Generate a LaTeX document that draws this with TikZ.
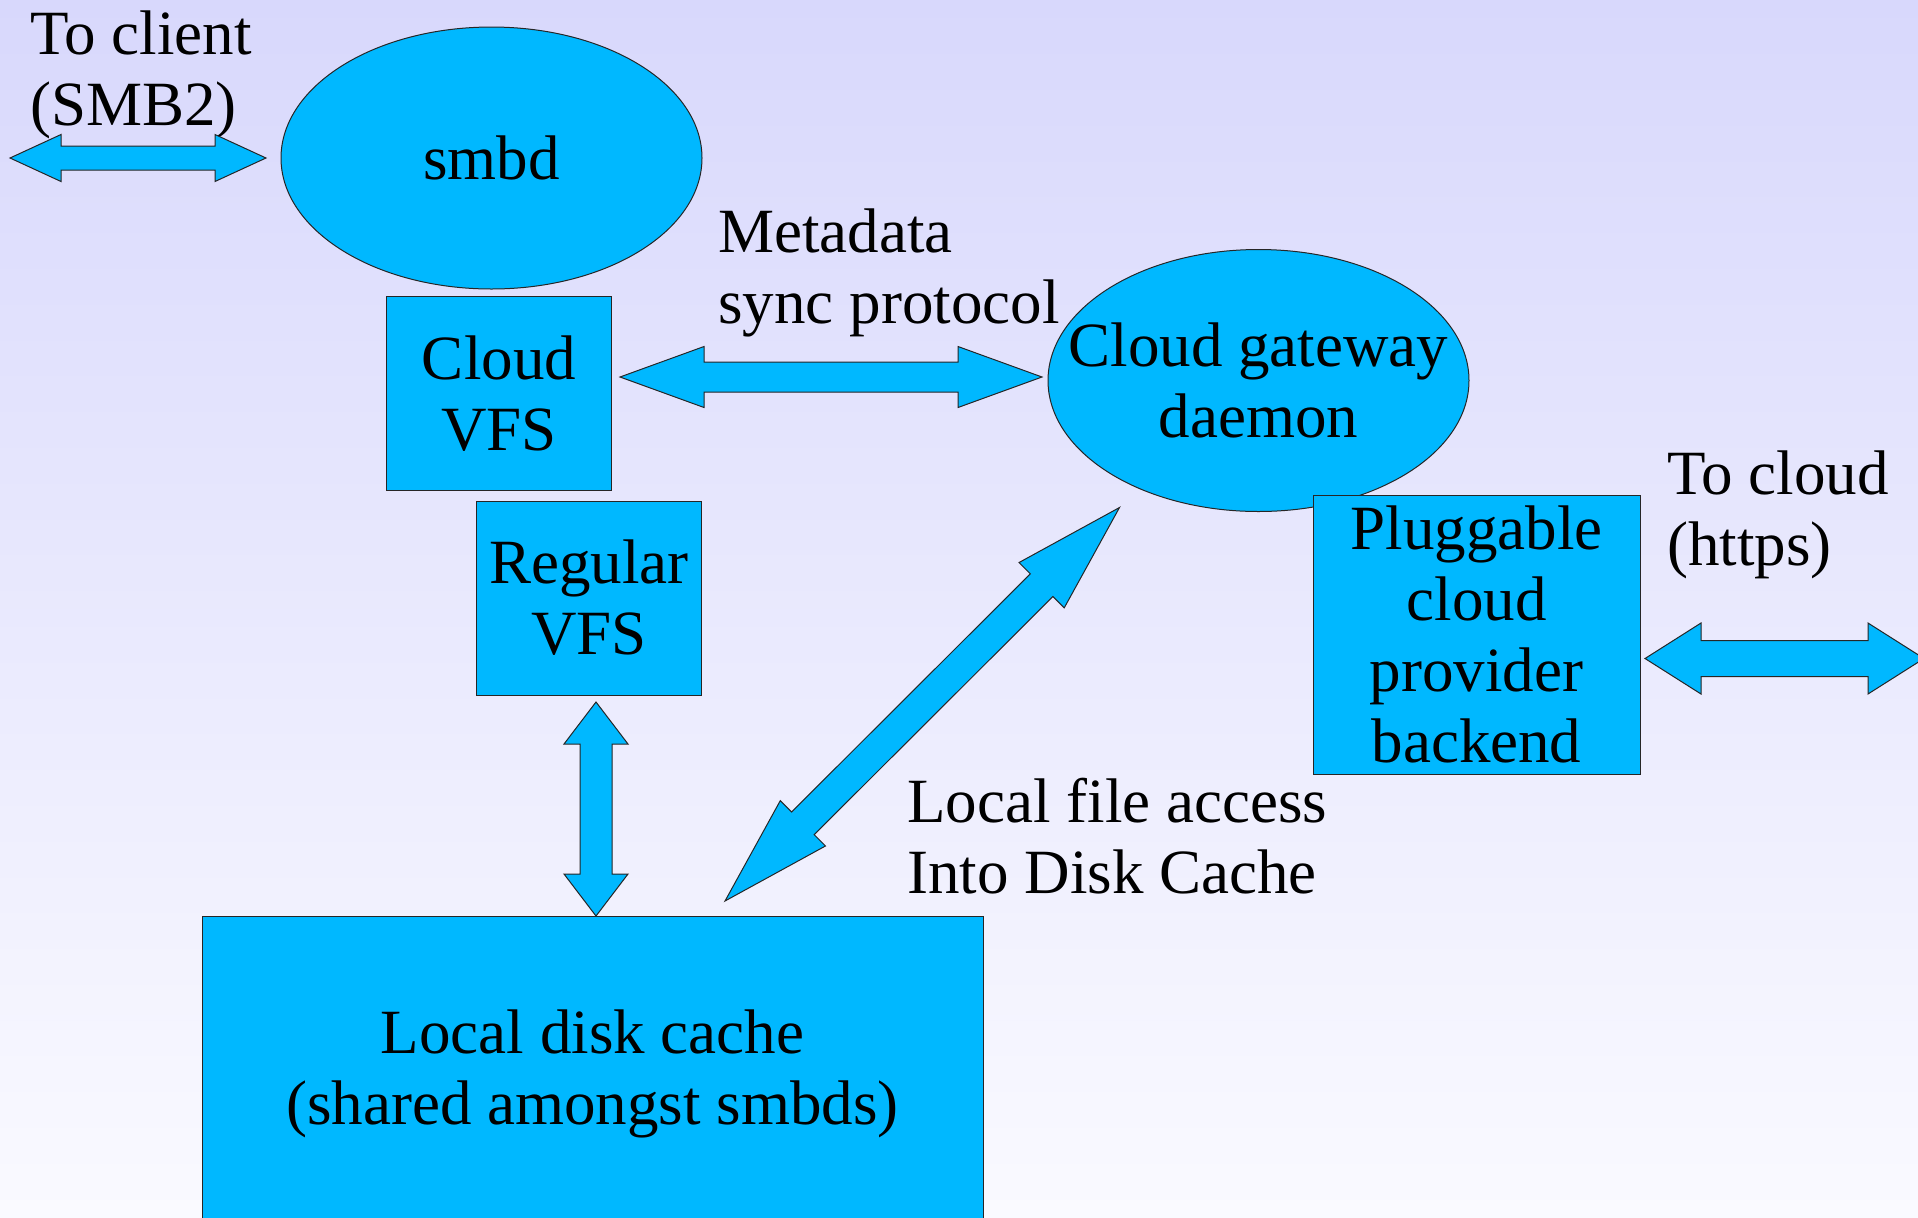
\documentclass[tikz,border=0pt]{standalone}
\usepackage{fontspec}
\setmainfont{Liberation Serif}
\usetikzlibrary{calc,shapes.geometric}
\definecolor{skyfill}{RGB}{0,184,255}
\definecolor{bgtop}{RGB}{216,216,252}
\definecolor{bgbot}{RGB}{250,250,255}
\newcommand{\dblarrow}[5]{%
\path ($(#1)!#3!(#2)$) coordinate (h_a) ($(#2)!#3!(#1)$) coordinate (h_b);
\filldraw [flow] (#1) -- ($(h_a)!#4!90:(#2)$) -- ($(h_a)!#5!90:(#2)$) -- ($(h_b)!#5!-90:(#1)$) -- ($(h_b)!#4!-90:(#1)$) -- (#2)
-- ($(h_b)!#4!90:(#1)$) -- ($(h_b)!#5!90:(#1)$) -- ($(h_a)!#5!-90:(#2)$) -- ($(h_a)!#4!-90:(#2)$) -- cycle;}

\begin{document}
\begin{tikzpicture}[x=0.5pt, y=-0.5pt, font=\fontsize{31.5}{35.5}\selectfont,
blob/.style={ellipse, draw=black!85, fill=skyfill, line width=0.5pt, inner sep=0pt, minimum width=210.5pt, minimum height=131pt},
box/.style={rectangle, draw=black!85, fill=skyfill, line width=0.5pt, inner sep=0pt, align=center},
note/.style={inner sep=0pt, anchor=north west, align=left},
flow/.style={fill=skyfill, draw=black!85, line width=0.5pt}]
\useasboundingbox (0,0) rectangle (1918,1217);
\clip (0,0) rectangle (1918,1217);
\shade [top color=bgtop, bottom color=bgbot] (0,0) rectangle (1918,1217);

\node [blob] (smbd) at (491.5,158) {smbd};
\node [box, minimum width=112.5pt, minimum height=97pt] (cvfs) at (499,393.5) {Cloud\\VFS};
\node [box, minimum width=112.5pt, minimum height=97pt] (rvfs) at (589,598) {Regular\\VFS};
\node [box, minimum width=390.5pt, minimum height=158pt] (ldc) at (592.5,1074) {Local disk cache\\(shared amongst smbds)};
\node [blob, label={[align=center]center:Cloud gateway\\daemon}] (cgd) at (1258.5,380.5) {};
\node [box, minimum width=163.5pt, minimum height=139.5pt] (pcpb) at (1476.5,634.5) {Pluggable\\cloud\\provider\\backend};

\node [note] (t_client) at (30,10) {To client\\(SMB2)};
\node [note] (t_meta) at (718,208) {Metadata\\sync protocol};
\node [note] (t_local) at (907,778) {Local file access\\Into Disk Cache};
\node [note] (t_cloud) at (1667,450) {To cloud\\(https)};

\coordinate (client_l) at (10,158);
\coordinate (client_r) at (266,158);
\coordinate (meta_l) at (620,377);
\coordinate (meta_r) at (1042,377);
\coordinate (cloud_l) at (1645,658.5);
\coordinate (cloud_r) at (1924,658.5);
\coordinate (rvfs_b) at (596,702);
\coordinate (ldc_t) at (596,916);
\coordinate (cgd_b) at (1119.5,507.5);
\coordinate (ldc_r) at (725,901);

\dblarrow{client_l}{client_r}{25.5pt}{11.75pt}{6pt}
\dblarrow{meta_l}{meta_r}{42pt}{15.25pt}{7.5pt}
\dblarrow{cloud_l}{cloud_r}{28pt}{17.75pt}{9pt}
\dblarrow{rvfs_b}{ldc_t}{21pt}{16pt}{8pt}
\dblarrow{cgd_b}{ldc_r}{55pt}{16pt}{8pt}
\end{tikzpicture}
\end{document}
